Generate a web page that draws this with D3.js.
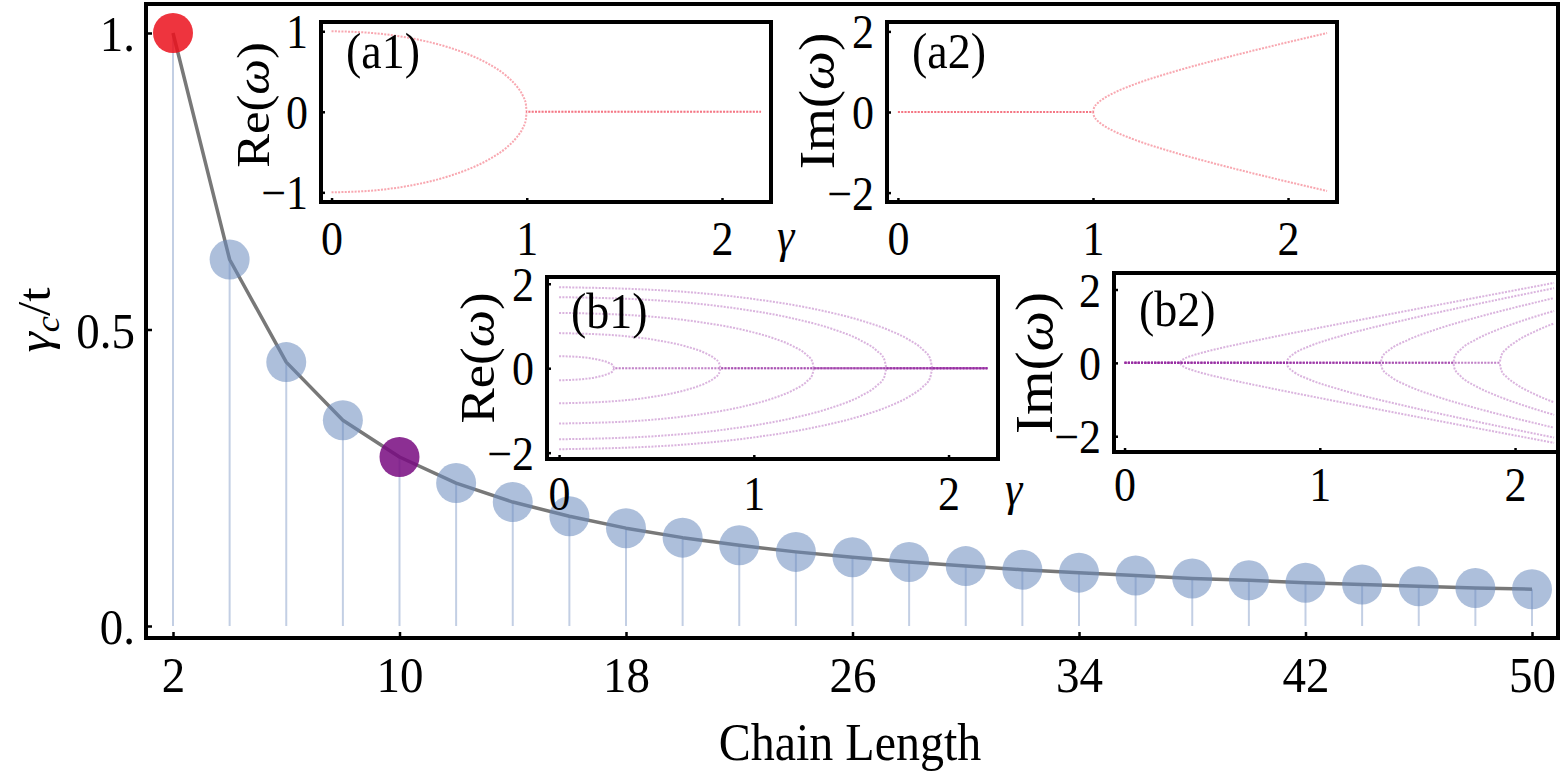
<!DOCTYPE html>
<html>
<head>
<meta charset="utf-8">
<script src="https://cdn.jsdelivr.net/npm/d3@7"></script>
<style>
  body { margin: 0; background: #fff; }
  svg { display: block; }
</style>
</head>
<body>
<svg width="1563" height="774"></svg>
<script>
'use strict';

// ---- main chart data ----
var chainLength = [2, 4, 6, 8, 10, 12, 14, 16, 18, 20, 22, 24, 26, 28, 30, 32, 34, 36, 38, 40, 42, 44, 46, 48, 50];
var gammaC = [1.000, 0.618, 0.445, 0.347, 0.285, 0.241, 0.209, 0.185, 0.165, 0.149, 0.136, 0.125, 0.116,
              0.108, 0.101, 0.095, 0.090, 0.085, 0.080, 0.077, 0.073, 0.070, 0.067, 0.064, 0.062];
var xTicks = [2, 10, 18, 26, 34, 42, 50];
var yTicks = [0, 0.5, 1];
var yTickLabels = ['0.', '0.5', '1.'];

// ---- inset data: [gamma, value] per branch ----
var insetXTicks = [0, 1, 2];

var reA1 = [
  [[0, 1], [0.2, 0.98], [0.4, 0.917], [0.6, 0.8], [0.7, 0.714], [0.8, 0.6], [0.9, 0.436], [0.95, 0.312], [0.98, 0.199], [0.995, 0.1], [1, 0], [2.2, 0]],
  [[0, -1], [0.2, -0.98], [0.4, -0.917], [0.6, -0.8], [0.7, -0.714], [0.8, -0.6], [0.9, -0.436], [0.95, -0.312], [0.98, -0.199], [0.995, -0.1], [1, 0], [2.2, 0]]
];
var imA2 = [
  [[0, 0], [1, 0], [1.005, 0.1], [1.02, 0.2], [1.05, 0.32], [1.1, 0.458], [1.2, 0.663], [1.4, 0.98], [1.6, 1.249], [1.8, 1.497], [2.0, 1.732], [2.2, 1.96]],
  [[0, 0], [1, 0], [1.005, -0.1], [1.02, -0.2], [1.05, -0.32], [1.1, -0.458], [1.2, -0.663], [1.4, -0.98], [1.6, -1.249], [1.8, -1.497], [2.0, -1.732], [2.2, -1.96]]
];

var reB1 = [
  [[0, 0.285], [0.1, 0.267], [0.2, 0.203], [0.25, 0.137], [0.275, 0.075], [0.285, 0], [2.2, 0]],
  [[0, -0.285], [0.1, -0.267], [0.2, -0.203], [0.25, -0.137], [0.275, -0.075], [0.285, 0], [2.2, 0]],
  [[0, 0.831], [0.3, 0.775], [0.5, 0.664], [0.65, 0.518], [0.75, 0.358], [0.8, 0.225], [0.82, 0.135], [0.831, 0], [2.2, 0]],
  [[0, -0.831], [0.3, -0.775], [0.5, -0.664], [0.65, -0.518], [0.75, -0.358], [0.8, -0.225], [0.82, -0.135], [0.831, 0], [2.2, 0]],
  [[0, 1.31], [0.4, 1.247], [0.7, 1.107], [0.95, 0.902], [1.1, 0.711], [1.2, 0.525], [1.27, 0.321], [1.3, 0.162], [1.31, 0], [2.2, 0]],
  [[0, -1.31], [0.4, -1.247], [0.7, -1.107], [0.95, -0.902], [1.1, -0.711], [1.2, -0.525], [1.27, -0.321], [1.3, -0.162], [1.31, 0], [2.2, 0]],
  [[0, 1.683], [0.5, 1.607], [0.9, 1.422], [1.2, 1.18], [1.4, 0.934], [1.55, 0.656], [1.63, 0.419], [1.67, 0.209], [1.683, 0], [2.2, 0]],
  [[0, -1.683], [0.5, -1.607], [0.9, -1.422], [1.2, -1.18], [1.4, -0.934], [1.55, -0.656], [1.63, -0.419], [1.67, -0.209], [1.683, 0], [2.2, 0]],
  [[0, 1.919], [0.6, 1.823], [1.0, 1.638], [1.3, 1.412], [1.55, 1.131], [1.7, 0.89], [1.8, 0.665], [1.87, 0.431], [1.905, 0.232], [1.919, 0], [2.2, 0]],
  [[0, -1.919], [0.6, -1.823], [1.0, -1.638], [1.3, -1.412], [1.55, -1.131], [1.7, -0.89], [1.8, -0.665], [1.87, -0.431], [1.905, -0.232], [1.919, 0], [2.2, 0]]
];

var imB2 = [
  [[0, 0], [0.285, 0], [0.29, 0.054], [0.3, 0.094], [0.35, 0.203], [0.4, 0.281], [0.5, 0.411], [0.7, 0.639], [1.0, 0.959], [1.4, 1.371], [1.8, 1.777], [2.2, 2.181]],
  [[0, 0], [0.285, 0], [0.29, -0.054], [0.3, -0.094], [0.35, -0.203], [0.4, -0.281], [0.5, -0.411], [0.7, -0.639], [1.0, -0.959], [1.4, -1.371], [1.8, -1.777], [2.2, -2.181]],
  [[0, 0], [0.831, 0], [0.835, 0.081], [0.84, 0.122], [0.87, 0.257], [0.95, 0.46], [1.1, 0.721], [1.4, 1.127], [1.8, 1.597], [2.2, 2.037]],
  [[0, 0], [0.831, 0], [0.835, -0.081], [0.84, -0.122], [0.87, -0.257], [0.95, -0.46], [1.1, -0.721], [1.4, -1.127], [1.8, -1.597], [2.2, -2.037]],
  [[0, 0], [1.31, 0], [1.32, 0.162], [1.36, 0.365], [1.45, 0.622], [1.6, 0.919], [1.8, 1.234], [2.0, 1.511], [2.2, 1.767]],
  [[0, 0], [1.31, 0], [1.32, -0.162], [1.36, -0.365], [1.45, -0.622], [1.6, -0.919], [1.8, -1.234], [2.0, -1.511], [2.2, -1.767]],
  [[0, 0], [1.683, 0], [1.69, 0.154], [1.72, 0.355], [1.8, 0.638], [1.9, 0.882], [2.0, 1.081], [2.1, 1.256], [2.2, 1.417]],
  [[0, 0], [1.683, 0], [1.69, -0.154], [1.72, -0.355], [1.8, -0.638], [1.9, -0.882], [2.0, -1.081], [2.1, -1.256], [2.2, -1.417]],
  [[0, 0], [1.919, 0], [1.93, 0.206], [1.96, 0.399], [2.0, 0.563], [2.1, 0.853], [2.2, 1.076]],
  [[0, 0], [1.919, 0], [1.93, -0.206], [1.96, -0.399], [2.0, -0.563], [2.1, -0.853], [2.2, -1.076]]
];

// ---- layout ----
var FONT = '"Liberation Serif", "Times New Roman", serif';
var STRETCH = 1.1;   // the picture's text is a bit taller than wide
var frame = { left: 146, right: 1558, top: 4, bottom: 638 };

var svg = d3.select('svg');

var x = d3.scaleLinear().domain([2, 50]).range([173, 1532]);
var y = d3.scaleLinear().domain([0, 1]).range([626, 33]);

var points = chainLength.map(function(n, i) { return { n: n, g: gammaC[i] }; });

function pointFill(d) {
  if (d.n === 2) return 'rgb(235,16,28)';
  if (d.n === 10) return 'rgb(120,10,128)';
  return 'rgb(106,138,189)';
}
function pointOpacity(d) {
  return (d.n === 2 || d.n === 10) ? 0.85 : 0.55;
}

function tidyAxis(g, size) {
  g.select('.domain').remove();
  g.selectAll('.tick line').attr('stroke', '#000').attr('stroke-width', 2.5);
  g.selectAll('text')
    .attr('fill', '#000')
    .style('font-family', FONT)
    .style('font-size', size + 'px')
    .attr('transform', 'scale(1,' + STRETCH + ')');
}

function addText(g, px, py, size, parts, opts) {
  opts = opts || {};
  var tr = 'translate(' + px + ',' + py + ')';
  tr += opts.rotate ? ' rotate(-90) scale(' + STRETCH + ',1)' : ' scale(1,' + STRETCH + ')';
  var t = g.append('text')
    .attr('transform', tr)
    .attr('text-anchor', opts.anchor || 'start')
    .attr('fill', '#000')
    .style('font-family', FONT)
    .style('font-size', size + 'px');
  parts.forEach(function(p) {
    var s = t.append('tspan').text(p.t);
    if (p.i) s.style('font-style', 'italic');
    if (p.sub) s.style('font-size', Math.round(size * 0.7) + 'px');
    if (p.dy) s.attr('dy', p.dy);
  });
  return t;
}

// ---- main plot ----
var plot = svg.append('g').attr('id', 'main-plot');

plot.selectAll('line.stem')
  .data(points)
  .enter()
  .append('line')
  .attr('class', 'stem')
  .attr('x1', function(d) { return x(d.n); })
  .attr('x2', function(d) { return x(d.n); })
  .attr('y1', function(d) { return y(d.g); })
  .attr('y2', y(0))
  .attr('stroke', '#c3cfe4')
  .attr('stroke-width', 2);

var line = d3.line()
  .x(function(d) { return x(d.n); })
  .y(function(d) { return y(d.g); });

plot.append('path')
  .datum(points)
  .attr('fill', 'none')
  .attr('stroke', '#787878')
  .attr('stroke-width', 3.5)
  .attr('stroke-linejoin', 'round')
  .attr('d', line);

plot.selectAll('circle')
  .data(points)
  .enter()
  .append('circle')
  .attr('cx', function(d) { return x(d.n); })
  .attr('cy', function(d) { return y(d.g); })
  .attr('r', 20)
  .attr('fill', pointFill)
  .attr('fill-opacity', pointOpacity);

// frame
svg.append('rect')
  .attr('x', frame.left).attr('y', frame.top)
  .attr('width', frame.right - frame.left).attr('height', frame.bottom - frame.top)
  .attr('fill', 'none').attr('stroke', '#000').attr('stroke-width', 4);

// axes
var axisX = d3.axisBottom(x).tickValues(xTicks).tickSize(-6).tickFormat(d3.format('d'));
var gx = svg.append('g').attr('transform', 'translate(0,' + frame.bottom + ')').call(axisX);
tidyAxis(gx, 47);
gx.selectAll('text').attr('y', 54.5 / STRETCH).attr('dy', 0);

var axisY = d3.axisLeft(y).tickValues(yTicks).tickSize(-6)
  .tickFormat(function(d, i) { return yTickLabels[i]; });
var gy = svg.append('g').attr('transform', 'translate(' + frame.left + ',0)').call(axisY);
tidyAxis(gy, 47);
gy.selectAll('text').attr('x', -11).attr('y', 16).attr('dy', 0);

addText(svg, 850, 760, 48, [{ t: 'Chain Length' }], { anchor: 'middle' });
addText(svg, 50, 320, 47, [{ t: 'γ', i: true }, { t: 'c', i: true, sub: true, dy: 9 }, { t: '/t', dy: -9 }],
  { rotate: true, anchor: 'middle' });

// ---- insets ----
var insets = [
  { box: [321, 22, 771, 202], xDomain: [-0.054, 2.251], yDomain: [-1.12, 1.115], yTicks: [-1, 0, 1],
    branches: reA1, color: 'rgb(240,60,80)', opacity: 0.45, tag: '(a1)', tagPos: [346, 68],
    axisName: 'Re', namePos: [269, 105], nameSize: 46, tickGap: 53, gammaPos: [777, 252] },
  { box: [887, 22, 1337, 202], xDomain: [-0.056, 2.251], yDomain: [-2.233, 2.233], yTicks: [-2, 0, 2],
    branches: imA2, color: 'rgb(240,60,80)', opacity: 0.45, tag: '(a2)', tagPos: [912, 68],
    axisName: 'Im', namePos: [834, 101], nameSize: 50, tickGap: 53 },
  { box: [547, 277, 998, 459], xDomain: [-0.062, 2.254], yDomain: [-2.15, 2.16], yTicks: [-2, 0, 2],
    branches: reB1, color: 'rgb(150,40,160)', opacity: 0.35, tag: '(b1)', tagPos: [571, 328],
    axisName: 'Re', namePos: [494, 358], nameSize: 48, tickGap: 51, gammaPos: [1005, 505] },
  { box: [1114, 273, 1558, 452], xDomain: [-0.054, 2.22], yDomain: [-2.43, 2.45], yTicks: [-2, 0, 2],
    branches: imB2, color: 'rgb(150,40,160)', opacity: 0.35, tag: '(b2)', tagPos: [1139, 326],
    axisName: 'Im', namePos: [1052, 363], nameSize: 52, tickGap: 49 }
];

insets.forEach(function(spec) {
  var left = spec.box[0], top = spec.box[1], right = spec.box[2], bottom = spec.box[3];
  var g = svg.append('g').attr('class', 'inset');
  var ix = d3.scaleLinear().domain(spec.xDomain).range([left, right]);
  var iy = d3.scaleLinear().domain(spec.yDomain).range([bottom, top]);

  g.append('rect')
    .attr('x', left).attr('y', top).attr('width', right - left).attr('height', bottom - top)
    .attr('fill', '#fff');

  var branchLine = d3.line()
    .x(function(d) { return ix(d[0]); })
    .y(function(d) { return iy(d[1]); })
    .curve(d3.curveMonotoneX);

  // dotted look of the sampled eigenvalues
  g.selectAll('path.branch')
    .data(spec.branches)
    .enter()
    .append('path')
    .attr('class', 'branch')
    .attr('fill', 'none')
    .attr('stroke', spec.color)
    .attr('stroke-opacity', spec.opacity)
    .attr('stroke-width', 2)
    .attr('stroke-dasharray', '2,1.3')
    .attr('d', branchLine);

  g.append('rect')
    .attr('x', left).attr('y', top).attr('width', right - left).attr('height', bottom - top)
    .attr('fill', 'none').attr('stroke', '#000').attr('stroke-width', 4);

  var ax = g.append('g').attr('transform', 'translate(0,' + bottom + ')')
    .call(d3.axisBottom(ix).tickValues(insetXTicks).tickSize(-4).tickFormat(d3.format('d')));
  tidyAxis(ax, 44);
  ax.selectAll('text').attr('y', spec.tickGap / STRETCH).attr('dy', 0);

  var ay = g.append('g').attr('transform', 'translate(' + left + ',0)')
    .call(d3.axisLeft(iy).tickValues(spec.yTicks).tickSize(-4).tickFormat(d3.format('d')));
  tidyAxis(ay, 44);
  ay.selectAll('text').attr('x', -13).attr('y', 15).attr('dy', 0);

  addText(g, spec.tagPos[0], spec.tagPos[1], 46, [{ t: spec.tag }]);
  addText(g, spec.namePos[0], spec.namePos[1], spec.nameSize,
    [{ t: spec.axisName + '(' }, { t: 'ω', i: true }, { t: ')' }], { rotate: true, anchor: 'middle' });
  if (spec.gammaPos) {
    addText(g, spec.gammaPos[0], spec.gammaPos[1], 44, [{ t: 'γ', i: true }]);
  }
});
</script>
</body>
</html>
